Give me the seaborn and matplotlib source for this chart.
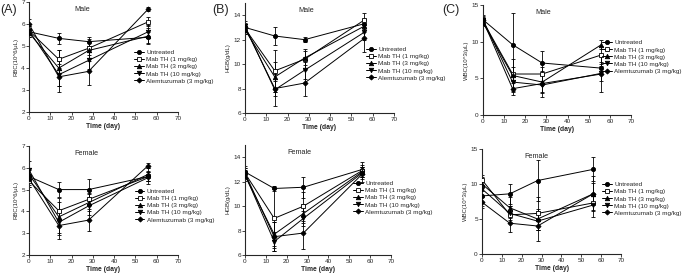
import matplotlib
matplotlib.use("Agg")
import matplotlib.pyplot as plt
import seaborn as sns
import pandas as pd

days = [0, 14, 28, 56]
groups = ["Untreated", "Mab TH (1 mg/kg)", "Mab TH (3 mg/kg)", "Mab TH (10 mg/kg)", "Alemtuzumab (3 mg/kg)"]

# RBC (10^6/uL)
rbc_male = {"Untreated": [5.65, 5.35, 5.2, 5.4], "Mab TH (1 mg/kg)": [5.7, 4.4, 4.9, 6.1],
            "Mab TH (3 mg/kg)": [5.6, 4.0, 4.8, 5.45], "Mab TH (10 mg/kg)": [5.7, 3.7, 4.35, 5.65],
            "Alemtuzumab (3 mg/kg)": [6.0, 3.6, 3.85, 6.68]}
rbc_male_sd = {"Untreated": [0.25, 0.25, 0.2, 0.25], "Mab TH (1 mg/kg)": [0.2, 0.4, 0.3, 0.2],
               "Mab TH (3 mg/kg)": [0.2, 0.8, 0.5, 0.35], "Mab TH (10 mg/kg)": [0.3, 0.5, 0.4, 0.3],
               "Alemtuzumab (3 mg/kg)": [0.25, 0.7, 0.62, 0.1]}
rbc_female = {"Untreated": [5.6, 5.0, 5.0, 5.6], "Mab TH (1 mg/kg)": [5.4, 4.03, 4.55, 5.6],
              "Mab TH (3 mg/kg)": [5.7, 3.75, 4.4, 5.7], "Mab TH (10 mg/kg)": [5.9, 3.5, 4.25, 5.55],
              "Alemtuzumab (3 mg/kg)": [5.5, 3.35, 3.6, 6.1]}
rbc_female_sd = {"Untreated": [0.4, 0.35, 0.5, 0.2], "Mab TH (1 mg/kg)": [0.3, 0.4, 0.3, 0.2],
                 "Mab TH (3 mg/kg)": [0.3, 0.85, 0.4, 0.3], "Mab TH (10 mg/kg)": [0.4, 0.5, 0.4, 0.3],
                 "Alemtuzumab (3 mg/kg)": [0.4, 0.6, 0.5, 0.1]}
# HGB (g/dL)
hgb_male = {"Untreated": [13.0, 12.3, 12.0, 13.3], "Mab TH (1 mg/kg)": [12.9, 9.45, 10.4, 13.6],
            "Mab TH (3 mg/kg)": [12.8, 8.95, 10.5, 13.1], "Mab TH (10 mg/kg)": [13.1, 7.9, 9.5, 12.6],
            "Alemtuzumab (3 mg/kg)": [13.0, 8.0, 8.45, 12.1]}
hgb_male_sd = {"Untreated": [0.4, 0.75, 0.2, 0.4], "Mab TH (1 mg/kg)": [0.4, 1.7, 0.8, 0.6],
               "Mab TH (3 mg/kg)": [0.3, 1.2, 0.6, 0.5], "Mab TH (10 mg/kg)": [0.4, 1.3, 0.7, 0.6],
               "Alemtuzumab (3 mg/kg)": [0.3, 0.6, 1.05, 1.1]}
hgb_female = {"Untreated": [12.8, 11.45, 11.55, 13.0], "Mab TH (1 mg/kg)": [12.7, 9.0, 10.0, 12.9],
              "Mab TH (3 mg/kg)": [12.5, 7.7, 9.4, 12.8], "Mab TH (10 mg/kg)": [12.6, 7.1, 9.0, 12.7],
              "Alemtuzumab (3 mg/kg)": [12.7, 7.5, 7.8, 12.6]}
hgb_female_sd = {"Untreated": [0.5, 0.2, 0.85, 0.6], "Mab TH (1 mg/kg)": [0.4, 2.4, 1.2, 0.5],
                 "Mab TH (3 mg/kg)": [0.4, 1.0, 0.8, 0.4], "Mab TH (10 mg/kg)": [0.4, 0.8, 0.6, 0.5],
                 "Alemtuzumab (3 mg/kg)": [0.4, 1.2, 1.3, 0.6]}
# WBC (10^3/uL)
wbc_male = {"Untreated": [13.0, 9.6, 7.1, 6.4], "Mab TH (1 mg/kg)": [12.8, 5.6, 5.6, 8.2],
            "Mab TH (3 mg/kg)": [12.6, 5.4, 4.5, 9.6], "Mab TH (10 mg/kg)": [13.0, 4.5, 4.1, 5.7],
            "Alemtuzumab (3 mg/kg)": [12.9, 3.6, 4.3, 5.6]}
wbc_male_sd = {"Untreated": [0.7, 4.3, 1.7, 0.8], "Mab TH (1 mg/kg)": [0.5, 1.0, 1.0, 1.2],
               "Mab TH (3 mg/kg)": [0.5, 2.2, 1.5, 0.6], "Mab TH (10 mg/kg)": [0.5, 1.2, 1.7, 1.0],
               "Alemtuzumab (3 mg/kg)": [0.5, 0.8, 1.2, 2.5]}
wbc_female = {"Untreated": [8.3, 8.6, 10.5, 12.1], "Mab TH (1 mg/kg)": [10.6, 5.6, 5.8, 7.3],
              "Mab TH (3 mg/kg)": [10.0, 6.6, 5.0, 8.6], "Mab TH (10 mg/kg)": [9.3, 5.8, 4.7, 7.0],
              "Alemtuzumab (3 mg/kg)": [7.4, 4.4, 4.0, 8.6]}
wbc_female_sd = {"Untreated": [1.5, 1.4, 2.9, 1.7], "Mab TH (1 mg/kg)": [0.7, 1.2, 2.3, 1.0],
                 "Mab TH (3 mg/kg)": [1.0, 1.5, 1.5, 2.5], "Mab TH (10 mg/kg)": [1.0, 1.0, 1.2, 1.7],
                 "Alemtuzumab (3 mg/kg)": [0.8, 1.2, 2.2, 1.5]}

markers = {"Untreated": "o", "Mab TH (1 mg/kg)": "s", "Mab TH (3 mg/kg)": "^",
           "Mab TH (10 mg/kg)": "v", "Alemtuzumab (3 mg/kg)": "D"}
mfill = {"Untreated": "black", "Mab TH (1 mg/kg)": "white", "Mab TH (3 mg/kg)": "black",
         "Mab TH (10 mg/kg)": "black", "Alemtuzumab (3 mg/kg)": "black"}
msize = {"Untreated": 3.0, "Mab TH (1 mg/kg)": 3.2, "Mab TH (3 mg/kg)": 3.2,
         "Mab TH (10 mg/kg)": 3.2, "Alemtuzumab (3 mg/kg)": 2.6}

sns.set_theme(style="ticks")
plt.rcParams["font.family"] = ["Liberation Sans", "DejaVu Sans"]

fig = plt.figure(figsize=(6.84, 2.74), dpi=100)

panels = [
    # data, sd, rect, ylim, yticks, ylabel, title, title_x, legend anchor
    (rbc_male, rbc_male_sd, [0.0424, 0.591, 0.2178, 0.4015], (2, 7), [2, 3, 4, 5, 6, 7], "RBC(10^6/μL)", "Male", 0.36, (0.196, 0.818)),
    (rbc_female, rbc_female_sd, [0.0424, 0.0693, 0.2178, 0.398], (2, 7), [2, 3, 4, 5, 6, 7], "RBC(10^6/μL)", "Female", 0.385, (0.197, 0.311)),
    (hgb_male, hgb_male_sd, [0.3582, 0.5876, 0.2178, 0.4015], (6, 15), [6, 8, 10, 12, 14], "HGB(g/dL)", "Male", 0.41, (0.535, 0.829)),
    (hgb_female, hgb_female_sd, [0.3582, 0.0693, 0.2135, 0.401], (6, 15), [6, 8, 10, 12, 14], "HGB(g/dL)", "Female", 0.37, (0.516, 0.34)),
    (wbc_male, wbc_male_sd, [0.7061, 0.580, 0.2164, 0.4015], (0, 15), [0, 5, 10, 15], "WBC(10^3/μL)", "Male", 0.41, (0.880, 0.854)),
    (wbc_female, wbc_female_sd, [0.7047, 0.073, 0.2032, 0.383], (0, 15), [0, 5, 10, 15], "WBC(10^3/μL)", "Female", 0.39, (0.880, 0.336)),
]

fs = 4.6
for data, sd, rect, ylim, yticks, ylabel, title, tx, lanchor in panels:
    ax = fig.add_axes(rect)
    for g in groups:
        df = pd.DataFrame({"day": days, "val": data[g]})
        ax.errorbar(days, data[g], yerr=sd[g], fmt="none", ecolor="black",
                    elinewidth=0.6, capsize=1.6, capthick=0.6, zorder=2)
        sns.lineplot(data=df, x="day", y="val", ax=ax, color="black", linewidth=0.7,
                     marker=markers[g], markersize=msize[g], markerfacecolor=mfill[g],
                     markeredgecolor="black", markeredgewidth=0.6, label=g, legend=False, zorder=3)
    ax.set_xlim(0, 70)
    ax.set_ylim(*ylim)
    ax.set_xticks([0, 10, 20, 30, 40, 50, 60, 70])
    ax.set_yticks(yticks)
    ax.tick_params(labelsize=fs, length=2, width=0.6, pad=1)
    for s in ["left", "bottom"]:
        ax.spines[s].set_linewidth(0.8)
    sns.despine(ax=ax)
    ax.set_xlabel("Time (day)", fontsize=fs + 0.3, fontweight="bold", labelpad=1)
    ax.set_ylabel(ylabel, fontsize=fs - 0.3, labelpad=2)
    ax.text(tx, 0.93, title, transform=ax.transAxes, fontsize=5.2, ha="center", va="center")
    handles, labels = ax.get_legend_handles_labels()
    fig.legend(handles, labels, loc="upper left", bbox_to_anchor=lanchor, frameon=False,
               fontsize=fs, handlelength=1.5, handletextpad=0.4, labelspacing=0.25,
               borderpad=0, borderaxespad=0)

fig.text(0.0, 0.965, "(A)", fontsize=9, ha="left", va="center")
fig.text(0.311, 0.965, "(B)", fontsize=9, ha="left", va="center")
fig.text(0.647, 0.965, "(C)", fontsize=9, ha="left", va="center")

fig.savefig("out.png", dpi=100)
